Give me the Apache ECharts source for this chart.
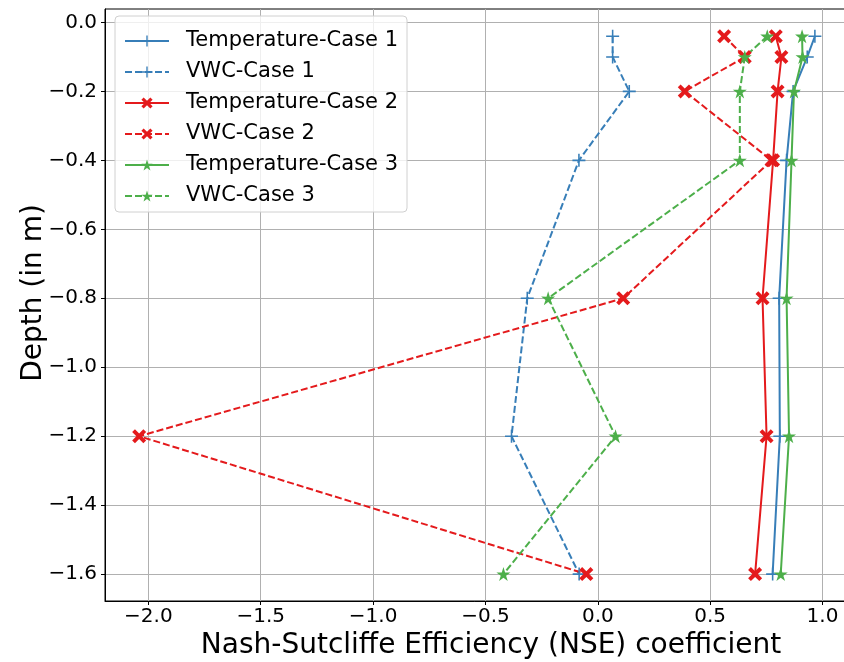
<!DOCTYPE html>
<html>
<head>
<meta charset="utf-8">
<script src="https://cdn.jsdelivr.net/npm/echarts@6/dist/echarts.min.js"></script>
<style>
  html, body { margin: 0; padding: 0; background: #fff; }
  #main { width: 844px; height: 662px; }
</style>
</head>
<body>
<div id="main"></div>
<script>
// depths of the sensors (m) and NSE values per series
var depths = [-0.04, -0.1, -0.2, -0.4, -0.8, -1.2, -1.6];
var tempCase1 = [0.966, 0.932, 0.869, 0.840, 0.807, 0.810, 0.778];
var vwcCase1 = [0.066, 0.066, 0.140, -0.084, -0.314, -0.384, -0.083];
var tempCase2 = [0.792, 0.817, 0.800, 0.780, 0.733, 0.751, 0.700];
var vwcCase2 = [0.562, 0.654, 0.387, 0.773, 0.113, -2.041, -0.051];
var tempCase3 = [0.909, 0.911, 0.873, 0.862, 0.840, 0.851, 0.814];
var vwcCase3 = [0.754, 0.654, 0.632, 0.632, -0.221, 0.079, -0.420];

var xTicks = [-2.0, -1.5, -1.0, -0.5, 0.0, 0.5, 1.0];
var yTicks = [0.0, -0.2, -0.4, -0.6, -0.8, -1.0, -1.2, -1.4, -1.6];

var FONT = 'DejaVu Sans';
var BLUE = '#377eb8', RED = '#e41a1c', GREEN = '#4daf4a';

// matplotlib-like markers
var PLUS = 'path://M4.4,0 L5.6,0 L5.6,4.4 L10,4.4 L10,5.6 L5.6,5.6 L5.6,10 L4.4,10 L4.4,5.6 L0,5.6 L0,4.4 L4.4,4.4 Z';
var XMARK = 'path://M2,0 L5,3 L8,0 L10,2 L7,5 L10,8 L8,10 L5,7 L2,10 L0,8 L3,5 L0,2 Z';
var STAR = 'path://M50,0 L61.17,34.63 L97.55,34.55 L68.07,55.87 L79.39,90.45 L50,69 L20.61,90.45 L31.93,55.87 L2.45,34.55 L38.83,34.63 Z';

function minus(v) {
  return v.toFixed(1).replace('-', '\u2212');
}

function pairs(vals) {
  return vals.map(function (v, i) { return [v, depths[i]]; });
}

function mkSeries(name, vals, color, symbol, size, dashed) {
  return {
    name: name,
    type: 'line',
    data: pairs(vals),
    symbol: symbol,
    symbolSize: size,
    showAllSymbol: true,
    animation: false,
    lineStyle: { color: color, width: 2, type: dashed ? [7, 3] : 'solid' },
    itemStyle: { color: color },
    emphasis: { disabled: true }
  };
}

var myChart = echarts.init(document.getElementById('main'));

var option = {
  backgroundColor: '#fff',
  animation: false,
  grid: {
    left: 105, top: 9, right: -1, bottom: 61,
    outerBoundsMode: 'none',
    containLabel: false,
    show: true, borderColor: '#000', borderWidth: 1
  },
  legend: {
    orient: 'vertical',
    left: 115, top: 16,
    padding: [13, 9, 4, 9],
    itemWidth: 44, itemHeight: 14,
    itemGap: 7,
    backgroundColor: 'rgba(255,255,255,0.8)',
    borderColor: '#d0d0d0', borderWidth: 1, borderRadius: 4,
    textStyle: { fontFamily: FONT, fontSize: 21, color: '#000', padding: [0, 0, 0, 12], lineHeight: 24 },
    data: ['Temperature-Case 1', 'VWC-Case 1', 'Temperature-Case 2', 'VWC-Case 2', 'Temperature-Case 3', 'VWC-Case 3']
  },
  xAxis: {
    type: 'value',
    min: -2.193, max: 1.1,
    splitNumber: 6,
    name: 'Nash-Sutcliffe Efficiency (NSE) coefficient',
    nameLocation: 'middle',
    nameGap: 31,
    nameMoveOverlap: false,
    nameTextStyle: { fontFamily: FONT, fontSize: 28, color: '#000', padding: [0, 0, 0, 32] },
    axisLine: { show: true, onZero: false, lineStyle: { color: '#000', width: 1 } },
    axisTick: { show: true, inside: false, length: 4, lineStyle: { color: '#000' }, customValues: xTicks },
    axisLabel: {
      fontFamily: FONT, fontSize: 20, color: '#000', margin: 6,
      customValues: xTicks,
      formatter: minus
    },
    splitLine: { show: true, lineStyle: { color: '#b0b0b0', width: 1 } }
  },
  yAxis: {
    type: 'value',
    min: -1.678, max: 0.039,
    splitNumber: 8,
    name: 'Depth (in m)',
    nameLocation: 'middle',
    nameGap: 57,
    nameMoveOverlap: false,
    nameTextStyle: { fontFamily: FONT, fontSize: 28, color: '#000', padding: [0, 0, 0, 24] },
    axisLine: { show: true, onZero: false, lineStyle: { color: '#000', width: 1 } },
    axisTick: { show: true, inside: false, length: 4, lineStyle: { color: '#000' }, customValues: yTicks },
    axisLabel: {
      fontFamily: FONT, fontSize: 20, color: '#000', margin: 8,
      customValues: yTicks,
      formatter: minus
    },
    splitLine: { show: true, lineStyle: { color: '#b0b0b0', width: 1 } }
  },
  series: [
    mkSeries('Temperature-Case 1', tempCase1, BLUE, PLUS, 13, false),
    mkSeries('VWC-Case 1', vwcCase1, BLUE, PLUS, 13, true),
    mkSeries('Temperature-Case 2', tempCase2, RED, XMARK, 14, false),
    mkSeries('VWC-Case 2', vwcCase2, RED, XMARK, 14, true),
    mkSeries('Temperature-Case 3', tempCase3, GREEN, STAR, 14, false),
    mkSeries('VWC-Case 3', vwcCase3, GREEN, STAR, 14, true)
  ]
};

myChart.setOption(option);
</script>
</body>
</html>
